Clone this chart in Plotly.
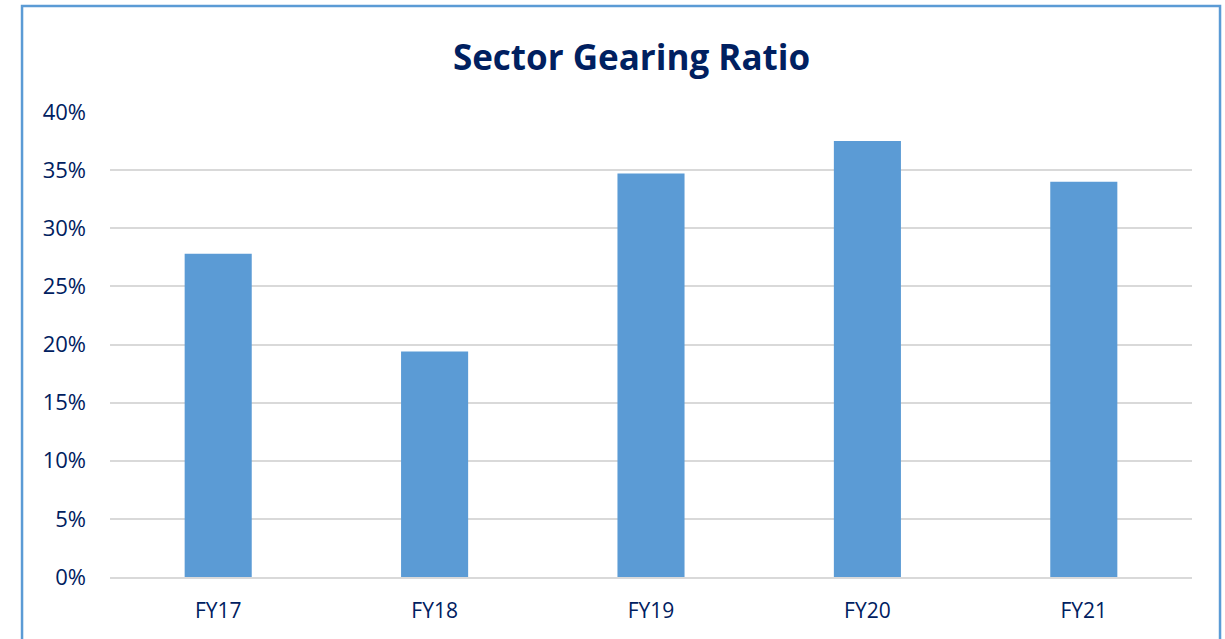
import plotly.graph_objects as go

years = ["FY17", "FY18", "FY19", "FY20", "FY21"]
gearing = [0.278, 0.194, 0.347, 0.375, 0.340]
y_ticks = [0, 0.05, 0.10, 0.15, 0.20, 0.25, 0.30, 0.35, 0.40]

_BAR = "#5B9BD5"
_NAVY = "#002060"
_GRID = "#D9D9D9"
_FONT = "'Open Sans', sans-serif"

fig = go.Figure(go.Bar(
    x=years, y=gearing,
    marker=dict(color=_BAR, line=dict(width=0)),
    width=0.31,
    hoverinfo="x+y",
))

fig.update_yaxes(
    range=[0, 0.40], tickvals=y_ticks, tickformat=".0%",
    showgrid=True, gridcolor=_GRID, gridwidth=1.5,
    zeroline=False, showline=False,
    tickfont=dict(size=22, color=_NAVY, family=_FONT),
    ticks="", ticklabelstandoff=23,
)
fig.update_xaxes(
    showline=True, linecolor=_GRID, linewidth=1.5,
    tickfont=dict(size=21, color=_NAVY, family=_FONT),
    ticks="", ticklabelstandoff=14,
)

# outer chart border
fig.add_shape(type="rect", xref="paper", yref="paper",
              x0=-0.0813, x1=1.0259, y0=-0.16, y1=1.228,
              line=dict(color=_BAR, width=2.5), layer="below")

fig.update_layout(
    title=dict(text="<b>Sector Gearing Ratio</b>", xref="container", x=0.5155,
               xanchor="center", yref="container", y=1 - 58 / 639,
               yanchor="middle",
               font=dict(size=35, color=_NAVY, family=_FONT)),
    width=1225, height=639,
    margin=dict(l=110, r=33, t=112, b=62),
    plot_bgcolor="white", paper_bgcolor="white",
    showlegend=False,
)

fig.write_html("out.html", config={"displayModeBar": False},
               post_script="document.body.style.margin='0';")
